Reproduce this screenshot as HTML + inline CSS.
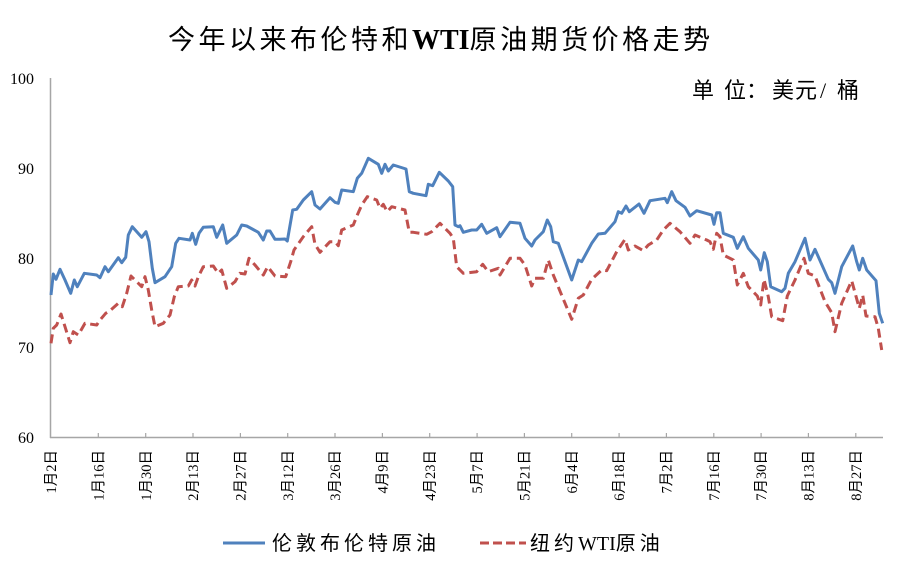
<!DOCTYPE html>
<html>
<head>
<meta charset="utf-8">
<style>
  html,body{margin:0;padding:0;background:#fff;}
  svg{display:block;}
</style>
</head>
<body>
<svg width="903" height="580" viewBox="0 0 903 580" xmlns="http://www.w3.org/2000/svg">
  <rect x="0" y="0" width="903" height="580" fill="#fff"/>

  <!-- Title -->
  <text x="168" y="49" font-size="27" letter-spacing="3.5" fill="#000" font-family="'Liberation Serif','Noto Sans CJK SC',serif">今年以来布伦特和<tspan font-weight="bold" font-size="28" letter-spacing="0">WTI</tspan>原油期货价格走势</text>

  <!-- Unit -->
  <g font-size="22" fill="#000" font-family="'Liberation Serif','Noto Sans CJK SC',serif">
    <text x="692" y="98">单</text>
    <text x="724" y="98">位：</text>
    <text x="772" y="98">美</text>
    <text x="795" y="98">元</text>
    <text x="820" y="98">/</text>
    <text x="837" y="98">桶</text>
  </g>

  <!-- Y axis labels -->
  <g font-size="16" fill="#000" font-family="'Liberation Serif',serif" text-anchor="end">
    <text x="34" y="84">100</text>
    <text x="34" y="174">90</text>
    <text x="34" y="264">80</text>
    <text x="34" y="353">70</text>
    <text x="34" y="443">60</text>
  </g>

  <!-- Axes -->
  <line x1="50.5" y1="78" x2="50.5" y2="438" stroke="#A6A6A6" stroke-width="1.5"/>
  <line x1="50" y1="437.5" x2="883" y2="437.5" stroke="#A6A6A6" stroke-width="1.5"/>
  <g stroke="#A6A6A6" stroke-width="1.2">
    <line x1="98.3" y1="433" x2="98.3" y2="438"/>
    <line x1="145.7" y1="433" x2="145.7" y2="438"/>
    <line x1="193.0" y1="433" x2="193.0" y2="438"/>
    <line x1="240.4" y1="433" x2="240.4" y2="438"/>
    <line x1="287.7" y1="433" x2="287.7" y2="438"/>
    <line x1="335.0" y1="433" x2="335.0" y2="438"/>
    <line x1="382.4" y1="433" x2="382.4" y2="438"/>
    <line x1="429.7" y1="433" x2="429.7" y2="438"/>
    <line x1="477.1" y1="433" x2="477.1" y2="438"/>
    <line x1="524.4" y1="433" x2="524.4" y2="438"/>
    <line x1="571.7" y1="433" x2="571.7" y2="438"/>
    <line x1="619.1" y1="433" x2="619.1" y2="438"/>
    <line x1="666.4" y1="433" x2="666.4" y2="438"/>
    <line x1="713.8" y1="433" x2="713.8" y2="438"/>
    <line x1="761.1" y1="433" x2="761.1" y2="438"/>
    <line x1="808.4" y1="433" x2="808.4" y2="438"/>
    <line x1="855.8" y1="433" x2="855.8" y2="438"/>
  </g>

  <!-- X labels -->
  <g font-size="14.5" fill="#000" font-family="'Liberation Serif','Noto Sans CJK SC',serif" text-anchor="end">
    <text transform="translate(51,450) rotate(-90)" dy="0.35em">1月2日</text>
    <text transform="translate(98.3,450) rotate(-90)" dy="0.35em">1月16日</text>
    <text transform="translate(145.7,450) rotate(-90)" dy="0.35em">1月30日</text>
    <text transform="translate(193.0,450) rotate(-90)" dy="0.35em">2月13日</text>
    <text transform="translate(240.4,450) rotate(-90)" dy="0.35em">2月27日</text>
    <text transform="translate(287.7,450) rotate(-90)" dy="0.35em">3月12日</text>
    <text transform="translate(335.0,450) rotate(-90)" dy="0.35em">3月26日</text>
    <text transform="translate(382.4,450) rotate(-90)" dy="0.35em">4月9日</text>
    <text transform="translate(429.7,450) rotate(-90)" dy="0.35em">4月23日</text>
    <text transform="translate(477.1,450) rotate(-90)" dy="0.35em">5月7日</text>
    <text transform="translate(524.4,450) rotate(-90)" dy="0.35em">5月21日</text>
    <text transform="translate(571.7,450) rotate(-90)" dy="0.35em">6月4日</text>
    <text transform="translate(619.1,450) rotate(-90)" dy="0.35em">6月18日</text>
    <text transform="translate(666.4,450) rotate(-90)" dy="0.35em">7月2日</text>
    <text transform="translate(713.8,450) rotate(-90)" dy="0.35em">7月16日</text>
    <text transform="translate(761.1,450) rotate(-90)" dy="0.35em">7月30日</text>
    <text transform="translate(808.4,450) rotate(-90)" dy="0.35em">8月13日</text>
    <text transform="translate(855.8,450) rotate(-90)" dy="0.35em">8月27日</text>
  </g>

  <!-- WTI (red dashed) -->
  <polyline fill="none" stroke="#C0504D" stroke-width="3" stroke-dasharray="9 5" stroke-linejoin="round"
    points="51,343.3 53.3,328.3 56.7,325 61,314 65,326.7 70,342.7 73.3,331.7 78.3,335 85,323.3 96.7,325 100,320 105.7,313.3 110,310.7 118.3,303.3 122.3,306.7 126.7,293.3 131,276 135,280 141.7,286.7 145,276.7 148.3,290 151.7,310 155,326.7 163.3,323.3 170,315 174.3,296.7 178.3,286.7 188.3,286 191.7,280 195,286 198.3,276.7 203.3,266.7 213.3,266 218.3,273.3 221.7,270 226.7,288.3 235,281.7 240,273.3 245,274 249,258.3 255,265 263.3,275 267.7,266.7 275,276 285.7,276.7 290.7,261.7 294,250 303.3,236.7 311.7,226.7 315,244.3 320,252.3 330,241.7 335,241.7 338.3,245.7 341.7,230 353.3,225 357.3,215 361.7,205 367.3,196.7 376.7,200 380,208.3 383.3,204.3 387.3,211.7 391.7,206.7 405,210 409.3,232.3 413.3,232.3 426.7,234.3 431.7,231.7 440,223.3 450,233.3 453.3,238.3 456.7,266.7 463.3,273.3 476.7,271.7 482.7,264.3 488.3,271.7 498.3,268.3 500,275 510,258.3 520,258.3 525,265 531.7,286 535,278.3 543.3,278.3 548.3,260 553.3,275 571.7,319.3 578.3,298.3 583.3,295 591.7,279.3 601.7,270 606.7,270.7 616.7,251.7 625,239.3 628.3,250 635,246 643.3,250.7 648.3,245 656.7,240 663.3,230 670,223.3 680,231.7 690,243.3 695,235 706.7,240 710,241.7 713.3,249.3 716.7,233.3 720,236.7 723.3,255 733.3,260 737.3,285 743.3,273.3 748.3,286.7 757.3,296 760.7,305 764,279.3 768.3,296.7 771.7,316.7 782.7,320.7 787.3,296 795,280 804,258.3 808.3,273.3 815,276 825,301.7 831.7,312.7 835,331.7 841.7,303.3 851.7,280.7 859.3,308.3 862.7,295 866,316 875,316.7 878.3,328.3 881.7,350"/>

  <!-- Brent (blue solid) -->
  <polyline fill="none" stroke="#4F81BD" stroke-width="3" stroke-linejoin="round"
    points="51,295 53.3,274 56,279.3 60,269.3 65,280 70.7,293.3 74.3,280 77.3,286.7 84.3,273.3 96.7,275 100,277.7 105,266.7 108.3,271.7 118.3,257.7 121.7,262.7 125.7,257.3 128.3,235 132.3,226.7 141.7,237.3 146,231.7 149,241.7 152.3,268.3 155,282.7 165,276.7 171.7,266.7 175.7,243.3 179,238.3 190,240 192.3,233.3 195.7,244.3 199,233.3 203.3,227.3 213.3,226.7 216.7,237.3 222.7,225 226.7,243.3 236.7,235 241.7,225 246.7,226 258.3,232.3 263.3,240 266.7,231 270,231 275,239.3 280,239.3 285,239 287.3,241 292.7,210 296.7,209.3 303.3,200 311.7,191.7 315,205 320,209 330,197.7 335,202.3 338.3,203.3 341.7,190 353.3,191.7 357.3,178.3 361.7,173.3 368.3,158.3 378.3,164.3 381.7,173.3 385,164.3 388.3,171 393.3,165 406,169 409.3,191.7 413.3,193.3 426,195.7 428.3,184.3 432.7,185.7 439.3,172.3 448.3,181 452.7,186.7 455,225 458.3,226.7 460,225.7 463.3,232.3 471.7,230 476.7,230 481.7,224.3 486.7,233.3 496.7,227.7 500,236.7 510,222.3 520,223.3 525,238.3 531.7,246 535,240 543.3,231.7 547.3,220 550.7,226.7 553.3,241.7 558.3,243.3 571.7,280 578.3,260 581.7,261.7 591.7,243.3 598.3,234 605,233.3 615,221.7 618.3,211.7 621.7,213.3 626,206 629.3,211.7 639,204 644,213.3 650,200.7 665,198.3 667.3,202.7 671.7,191.7 676,200.7 685,207.3 690,216 696.7,210.7 711.7,215 714,224.3 716.7,212.7 720,212.7 723.3,233.3 733.3,237.3 737.3,248.3 743.3,236.7 748.3,248.3 758.3,260 760.7,270 764.3,252.7 767.3,261.7 770.7,286.7 781.7,291.7 785,288.3 788.3,273.3 795,261.7 805,238.3 810,260 815,249.3 828.3,279.3 831.7,282.7 835,293.3 841.7,266.7 852.7,246 856.7,261.7 859.3,270 862.7,258.3 866.7,270 876,280.7 879.3,313.3 882.7,323.3"/>

  <!-- Legend -->
  <line x1="223" y1="543" x2="265" y2="543" stroke="#4F81BD" stroke-width="3"/>
  <text x="272" y="550" font-size="20" letter-spacing="4" fill="#000" font-family="'Liberation Serif','Noto Sans CJK SC',serif">伦敦布伦特原油</text>
  <line x1="480" y1="543" x2="526" y2="543" stroke="#C0504D" stroke-width="3" stroke-dasharray="9 4"/>
  <text x="530" y="550" font-size="20" letter-spacing="4" fill="#000" font-family="'Liberation Serif','Noto Sans CJK SC',serif">纽约<tspan letter-spacing="0">WTI</tspan>原油</text>
</svg>
</body>
</html>
